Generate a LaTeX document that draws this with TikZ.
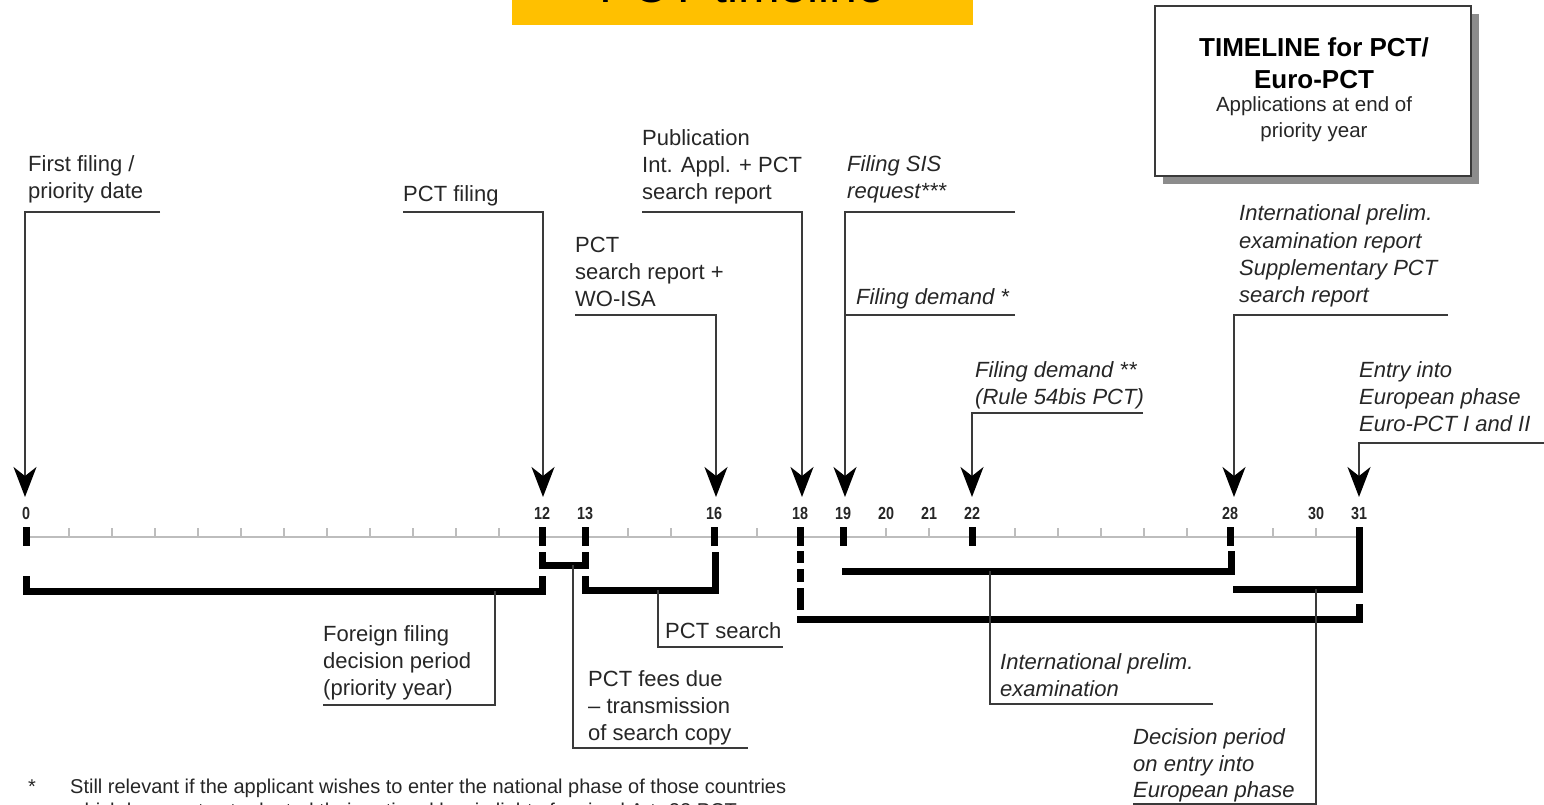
\documentclass[tikz,border=0pt]{standalone}
\usepackage{fontspec}
\setmainfont{Liberation Sans}
\newfontfamily\numfont{Liberation Sans}[FakeStretch=0.82]
\usetikzlibrary{arrows.meta}
\definecolor{titleyellow}{HTML}{FFC000}
\definecolor{leadgrey}{HTML}{3A3A3A}
\definecolor{axisgrey}{HTML}{BDBDBD}
\begin{document}
\begin{tikzpicture}[x=1pt,y=-1pt,
  thinline/.style={line width=1.6pt, draw=leadgrey},
  arrowline/.style={thinline, -{Stealth[width=23pt,length=30pt,inset=9pt,color=black]}, line join=miter},
  bar/.style={line width=7pt, line cap=butt, line join=miter, draw=black},
  lbl/.style={anchor=base west, inner sep=0pt, font=\fontsize{22}{27}\selectfont, text=black!85},
  ilbl/.style={lbl, font=\fontsize{22}{27}\selectfont\itshape},
  num/.style={anchor=base, inner sep=0pt, font=\numfont\fontsize{17.5}{20}\selectfont\bfseries, text=black!85},
  monthmark/.style={fill=black}]
\useasboundingbox (0,0) rectangle (1544,805);
\clip (0,0) rectangle (1544,805);

% title
\fill[titleyellow] (512,-10) rectangle (973,25);
\node[anchor=base, inner sep=0pt, font=\fontsize{50}{60}\selectfont] (title) at (742.5,3) {PCT timeline};

% info box
\fill[black!45] (1163,14) rectangle (1479,184);
\draw[line width=1.6pt, draw=leadgrey, fill=white] (1155,6) rectangle (1471,176);
\node[anchor=base, inner sep=0pt, font=\fontsize{26}{30}\selectfont\bfseries] (b1) at (1314,57) {TIMELINE for PCT/};
\node[anchor=base, inner sep=0pt, font=\fontsize{26}{30}\selectfont\bfseries] (b2) at (1314,89) {Euro-PCT};
\node[anchor=base, inner sep=0pt, font=\fontsize{20.5}{25}\selectfont, text=black!85] (b3) at (1314,112) {Applications at end of};
\node[anchor=base, inner sep=0pt, font=\fontsize{20.5}{25}\selectfont, text=black!85] (b4) at (1314,138) {priority year};

% month coordinates
\foreach \m in {0,...,31} \coordinate (m\m) at ({26+43*\m},537);

% axis
\draw[draw=axisgrey, line width=1.5pt] (m0) -- (m31);
\foreach \m in {1,...,30} \draw[draw=axisgrey, line width=1.3pt] ({26+43*\m},528) -- ({26+43*\m},537);
\foreach \m in {0,12,13,16,18,19,20,21,22,28,30,31}
  \node[num] (n\m) at ({26+43*\m},519) {\m};
\foreach \m in {0,12,13,16,18,19,22,28}
  \fill[monthmark] ({26+43*\m-3.5},527) rectangle ({26+43*\m+3.5},546);
% dashed continuation at 18
\fill[monthmark] (796.5,551) rectangle (803.5,563);
\fill[monthmark] (796.5,569) rectangle (803.5,582);
\fill[monthmark] (796.5,588) rectangle (803.5,610);

% brackets
\draw[bar] (26,576) -- (26,591) -- (542,591) -- (542,576);
\draw[bar] (542,552) -- (542,565) -- (585,565) -- (585,552);
\draw[bar] (585,576) -- (585,590) -- (715,590) -- (715,552);
\draw[bar] (842,571) -- (1231,571) -- (1231,551);
\draw[bar] (1233,589) -- (1359,589) -- (1359,527);
\draw[bar] (797,619) -- (1359,619) -- (1359,604);

% arrows from top labels
\draw[arrowline] (160,212) -- (25,212) -- (25,497);
\draw[arrowline] (403,212) -- (543,212) -- (543,497);
\draw[arrowline] (575,315) -- (716,315) -- (716,497);
\draw[arrowline] (642,212) -- (802,212) -- (802,497);
\draw[arrowline] (1015,212) -- (845,212) -- (845,497);
\draw[thinline] (1015,315) -- (845,315);
\draw[arrowline] (1143,413) -- (972,413) -- (972,497);
\draw[arrowline] (1448,315) -- (1234,315) -- (1234,497);
\draw[arrowline] (1544,443) -- (1359,443) -- (1359,497);

% leaders below
\draw[thinline] (495,591) -- (495,705) -- (323,705);
\draw[thinline] (573,565) -- (573,748) -- (748,748);
\draw[thinline] (658,590) -- (658,647) -- (783,647);
\draw[thinline] (990,571) -- (990,704) -- (1213,704);
\draw[thinline] (1316,589) -- (1316,804) -- (1133,804);

% top labels
\node[lbl] (t0a) at (28,172) {First filing /};
\node[lbl] (t0b) at (28,199) {priority date};
\node[lbl] (t12) at (403,201) {PCT filing};
\node[lbl] (t18a) at (642,146) {Publication};
\node[lbl] (t18b) at (642,173) {Int. Appl. + PCT};
\node[lbl] (t18c) at (642,200) {search report};
\node[lbl] (t16a) at (575,252) {PCT};
\node[lbl] (t16b) at (575,279) {search report +};
\node[lbl] (t16c) at (575,306) {WO-ISA};
\node[ilbl] (t19a) at (847,172) {Filing SIS};
\node[ilbl] (t19b) at (847,199) {request***};
\node[ilbl] (t19c) at (856,304) {Filing demand *};
\node[ilbl] (t22a) at (975,377) {Filing demand **};
\node[ilbl] (t22b) at (975,404) {(Rule 54bis PCT)};
\node[ilbl] (t28a) at (1239,221) {International prelim.};
\node[ilbl] (t28b) at (1239,248) {examination report};
\node[ilbl] (t28c) at (1239,275) {Supplementary PCT};
\node[ilbl] (t28d) at (1239,302) {search report};
\node[ilbl] (t31a) at (1359,377) {Entry into};
\node[ilbl] (t31b) at (1359,404) {European phase};
\node[ilbl] (t31c) at (1359,431) {Euro-PCT I and II};

% bottom labels
\node[lbl] (f1) at (323,641) {Foreign filing};
\node[lbl] (f2) at (323,668) {decision period};
\node[lbl] (f3) at (323,695) {(priority year)};
\node[lbl] (p1) at (588,686) {PCT fees due};
\node[lbl] (p2) at (588,713) {– transmission};
\node[lbl] (p3) at (588,740) {of search copy};
\node[lbl] (s1) at (665,638) {PCT search};
\node[ilbl] (i1) at (1000,669) {International prelim.};
\node[ilbl] (i2) at (1000,696) {examination};
\node[ilbl] (d1) at (1133,744) {Decision period};
\node[ilbl] (d2) at (1133,771) {on entry into};
\node[ilbl] (d3) at (1133,797) {European phase};

% footnote
\node[anchor=base west, inner sep=0pt, font=\fontsize{20}{24}\selectfont, text=black!85] (fs) at (28,793) {*};
\node[anchor=base west, inner sep=0pt, font=\fontsize{20}{24}\selectfont, text=black!85] (fn1) at (70,793) {Still relevant if the applicant wishes to enter the national phase of those countries};
\node[anchor=base west, inner sep=0pt, font=\fontsize{20}{24}\selectfont, text=black!85] (fn2) at (70,817) {which have not yet adopted their national law in light of revised Art. 22 PCT};
\end{tikzpicture}
\end{document}
